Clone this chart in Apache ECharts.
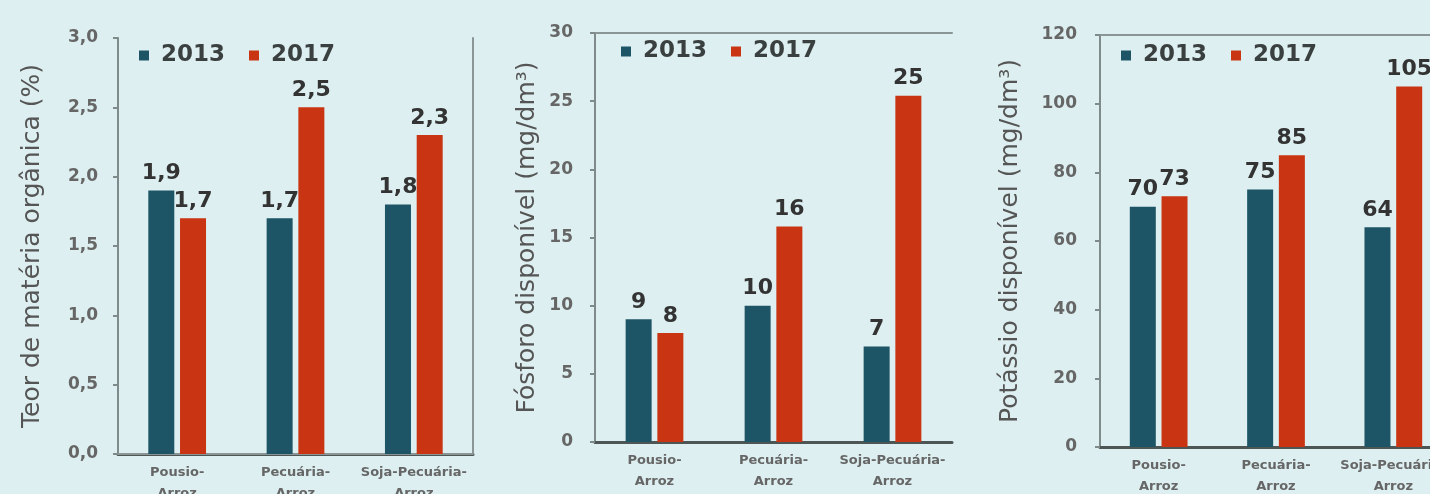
<!DOCTYPE html>
<html>
<head>
<meta charset="utf-8">
<script src="https://cdn.jsdelivr.net/npm/echarts@6/dist/echarts.min.js"></script>
<style>
html,body{margin:0;padding:0;background:#ddeff0;}
#c{width:1430px;height:494px;}
</style>
</head>
<body>
<div id="c"></div>
<script>
const categories = ['Pousio-\nArroz', 'Pecuária-\nArroz', 'Soja-Pecuária-\nArroz'];
const years = ['2013', '2017'];
const materia2013 = [1.9, 1.7, 1.8];
const materia2017 = [1.7, 2.5, 2.3];
const fosforo2013 = [9, 10, 7];
const fosforo2017 = [8, 15.8, 25.4];
const potassio2013 = [70, 75, 64];
const potassio2017 = [73, 85, 105];
const yTitles = ['Teor de matéria orgânica (%)', 'Fósforo disponível (mg/dm³)', 'Potássio disponível (mg/dm³)'];
const yMax = [3, 30, 120];
const yInterval = [0.5, 5, 20];
const decimals = [1, 0, 0];

const C2013 = '#1e5566';
const C2017 = '#c93512';
const FONT = 'DejaVu Sans';

const grids = [
  {left: 118, top: 38, width: 355, height: 416, outerBoundsMode: 'none', containLabel: false},
  {left: 595, top: 33, width: 357, height: 409, outerBoundsMode: 'none', containLabel: false},
  {left: 1100, top: 35, width: 352, height: 412, outerBoundsMode: 'none', containLabel: false}
];
const nameGaps = [73, 55, 77];
const labelMargins = [20, 22, 23];
const legendPos = [{left: 134, top: 39}, {left: 616, top: 35}, {left: 1116, top: 39}];
const panelData = [[materia2013, materia2017], [fosforo2013, fosforo2017], [potassio2013, potassio2017]];

function fmt(v, d) {
  return (d > 0 ? v.toFixed(d) : String(Math.round(v))).replace('.', ',');
}

const xAxis = [], yAxis = [], series = [], legend = [];
grids.forEach((g, i) => {
  xAxis.push({
    type: 'category', gridIndex: i, data: categories, position: 'bottom',
    axisLine: {show: true, lineStyle: {color: '#4d5555', width: 3}},
    axisTick: {show: false},
    axisLabel: {interval: 0, color: '#666', fontFamily: FONT, fontSize: 13, fontWeight: 'bold', lineHeight: 21, margin: 8}
  });
  xAxis.push({
    type: 'category', gridIndex: i, data: categories, position: 'top',
    axisLine: {show: true, lineStyle: {color: '#8a9696', width: 2}},
    axisTick: {show: false}, axisLabel: {show: false}
  });
  yAxis.push({
    type: 'value', gridIndex: i, min: 0, max: yMax[i], interval: yInterval[i],
    name: yTitles[i], nameLocation: 'middle', nameGap: nameGaps[i], nameRotate: 90,
    nameTextStyle: {color: '#555', fontFamily: FONT, fontSize: 25},
    axisLine: {show: true, lineStyle: {color: '#7f8b8b', width: 2}},
    axisTick: {show: true, length: 5, lineStyle: {color: '#7f8b8b', width: 2}},
    splitLine: {show: false},
    axisLabel: {color: '#666', fontFamily: FONT, fontSize: 17, fontWeight: 'bold', margin: labelMargins[i],
      formatter: v => fmt(v, decimals[i])}
  });
  if (i === 0) {
    yAxis.push({
      type: 'value', gridIndex: i, min: 0, max: yMax[i], interval: yInterval[i], position: 'right',
      axisLine: {show: true, lineStyle: {color: '#8a9696', width: 2}},
      axisTick: {show: false}, axisLabel: {show: false}, splitLine: {show: false}
    });
  }
  legend.push({
    ...legendPos[i], data: years, icon: 'rect', itemWidth: 10, itemHeight: 10, itemGap: 24,
    textStyle: {color: '#3a3f3f', fontFamily: FONT, fontSize: 23, fontWeight: 'bold', padding: [0, 0, 0, 7]}
  });
});

const yIdx = [0, 2, 3];
panelData.forEach((pair, i) => {
  pair.forEach((vals, k) => {
    series.push({
      type: 'bar', name: years[k], xAxisIndex: i * 2, yAxisIndex: yIdx[i],
      data: vals, barWidth: 26, barGap: '22%',
      itemStyle: {color: k === 0 ? C2013 : C2017},
      label: {show: true, position: 'top', distance: 6, color: '#333', fontFamily: FONT, fontSize: 22, fontWeight: 'bold',
        formatter: p => fmt(p.value, decimals[i])}
    });
  });
});

const chart = echarts.init(document.getElementById('c'), null, {renderer: 'canvas'});
chart.setOption({
  backgroundColor: '#ddeff0',
  animation: false,
  grid: grids,
  xAxis: xAxis,
  yAxis: yAxis,
  legend: legend,
  series: series
});
</script>
</body>
</html>
